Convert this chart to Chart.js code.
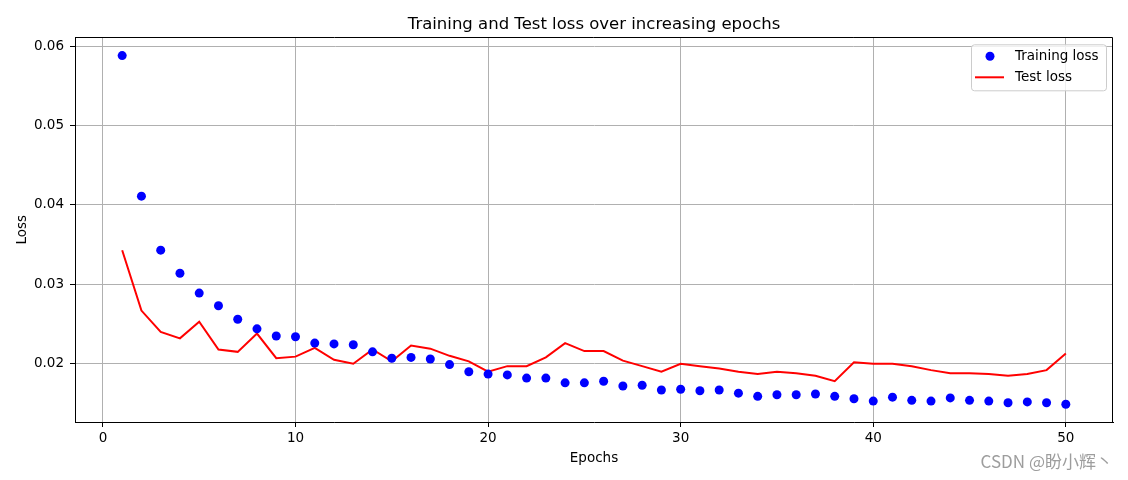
<!DOCTYPE html>
<html>
<head>
<meta charset="utf-8">
<script src="https://cdn.jsdelivr.net/npm/chart.js@4.4.1/dist/chart.umd.min.js"></script>
<style>
  html, body { margin: 0; padding: 0; background: #fff; }
  #wrap { width: 1128px; height: 480px; }
</style>
</head>
<body>
<div id="wrap"><canvas id="lossChart" width="1128" height="480"></canvas></div>
<script>
// --- DATA ---
const epochs = [1, 2, 3, 4, 5, 6, 7, 8, 9, 10,
    11, 12, 13, 14, 15, 16, 17, 18, 19, 20,
    21, 22, 23, 24, 25, 26, 27, 28, 29, 30,
    31, 32, 33, 34, 35, 36, 37, 38, 39, 40,
    41, 42, 43, 44, 45, 46, 47, 48, 49, 50];

const trainLoss = [0.0588, 0.0411, 0.0343, 0.0314, 0.0289, 0.0273, 0.0256, 0.0244, 0.0235, 0.0234,
    0.0226, 0.0225, 0.0224, 0.0215, 0.0207, 0.0208, 0.0206, 0.0199, 0.0190, 0.0187,
    0.0186, 0.0182, 0.0182, 0.0176, 0.0176, 0.0178, 0.0172, 0.0173, 0.0167, 0.0168,
    0.0166, 0.0167, 0.0163, 0.0159, 0.0161, 0.0161, 0.0162, 0.0159, 0.0156, 0.0153,
    0.0158, 0.0154, 0.0153, 0.0157, 0.0154, 0.0153, 0.0151, 0.0152, 0.0151, 0.0149];

const testLoss = [0.0343, 0.0267, 0.0240, 0.0232, 0.0253, 0.0218, 0.0215, 0.0238, 0.0207, 0.0209,
    0.0220, 0.0205, 0.0200, 0.0218, 0.0203, 0.0223, 0.0219, 0.0210, 0.0203, 0.0190,
    0.0197, 0.0197, 0.0208, 0.0226, 0.0216, 0.0216, 0.0204, 0.0197, 0.0190, 0.0200,
    0.0197, 0.0194, 0.0190, 0.0187, 0.0190, 0.0188, 0.0185, 0.0178, 0.0202, 0.0200,
    0.0200, 0.0197, 0.0192, 0.0188, 0.0188, 0.0187, 0.0185, 0.0187, 0.0192, 0.0213];

const xTicks = [0, 10, 20, 30, 40, 50];
const yTicks = [0.02, 0.03, 0.04, 0.05, 0.06];

const FONT = 'DejaVu Sans';
const BLUE = '#0000ff';
const RED = '#ff0000';

// top/right spines, legend inside the axes, watermark
const extras = {
    id: 'extras',
    afterDraw(chart) {
        const c = chart.ctx;
        const a = chart.chartArea;
        c.save();
        c.strokeStyle = '#000';
        c.lineWidth = 1;
        const top = Math.round(a.top) + 0.5, right = Math.round(a.right) - 0.5;
        c.beginPath();
        c.moveTo(a.left, top);
        c.lineTo(right, top);
        c.lineTo(right, a.bottom);
        c.stroke();

        // legend
        const w = 135, h = 46;
        const lx = a.right - 7 - w, ly = a.top + 7;
        c.beginPath();
        c.roundRect(lx + 0.5, ly + 0.5, w, h, 3);
        c.fillStyle = 'rgba(255,255,255,0.8)';
        c.fill();
        c.strokeStyle = '#cccccc';
        c.stroke();

        c.fillStyle = BLUE;
        c.beginPath();
        c.arc(lx + 19, ly + 12, 4.5, 0, Math.PI * 2);
        c.fill();

        c.strokeStyle = RED;
        c.lineWidth = 2;
        c.beginPath();
        c.moveTo(lx + 4, ly + 33);
        c.lineTo(lx + 33, ly + 33);
        c.stroke();

        c.fillStyle = '#000';
        c.font = '13.5px "' + FONT + '"';
        c.textBaseline = 'middle';
        c.textAlign = 'left';
        c.fillText('Training loss', lx + 44, ly + 12);
        c.fillText('Test loss', lx + 44, ly + 33);

        // watermark
        c.fillStyle = 'rgba(140,140,140,0.85)';
        c.font = '17px "Noto Sans CJK SC", "' + FONT + '"';
        c.textAlign = 'right';
        c.fillText('CSDN @盼小辉丶', 1113, 462);
        c.restore();
    }
};

const ctx = document.getElementById('lossChart');
new Chart(ctx, {
    type: 'line',
    data: {
        labels: epochs,
        datasets: [
            {
                label: 'Training loss',
                data: epochs.map((e, i) => ({ x: e, y: trainLoss[i] })),
                showLine: false,
                pointRadius: 4.5,
                pointBackgroundColor: BLUE,
                pointBorderWidth: 0,
                order: 1
            },
            {
                label: 'Test loss',
                data: epochs.map((e, i) => ({ x: e, y: testLoss[i] })),
                borderColor: RED,
                borderWidth: 2,
                pointRadius: 0,
                tension: 0,
                fill: false,
                order: 2
            }
        ]
    },
    options: {
        responsive: false,
        animation: false,
        devicePixelRatio: 1,
        layout: { padding: { left: 0, right: 15, top: 0, bottom: 0 } },
        plugins: {
            legend: { display: false },
            tooltip: { enabled: false },
            title: {
                display: true,
                text: 'Training and Test loss over increasing epochs',
                fullSize: false,
                color: '#000',
                font: { family: FONT, size: 16.5, weight: 'normal' },
                padding: { top: 15, bottom: 2.5 }
            }
        },
        scales: {
            x: {
                type: 'linear',
                min: -1.45,
                max: 52.45,
                afterBuildTicks: s => { s.ticks = xTicks.map(v => ({ value: v })); },
                afterFit: s => { s.height = 58; },
                ticks: {
                    color: '#000',
                    font: { family: FONT, size: 13.5 },
                    padding: 3,
                    maxRotation: 0,
                    callback: v => String(v)
                },
                grid: { color: '#b0b0b0', lineWidth: 1, tickColor: '#000', tickLength: 5 },
                border: { color: '#000', width: 1 },
                title: {
                    display: true,
                    text: 'Epochs',
                    color: '#000',
                    font: { family: FONT, size: 13.5 },
                    padding: { top: 0, bottom: 13 }
                }
            },
            y: {
                type: 'linear',
                min: 0.01267,
                max: 0.0611,
                afterBuildTicks: s => { s.ticks = yTicks.map(v => ({ value: v })); },
                afterFit: s => { s.width = 75; },
                ticks: {
                    color: '#000',
                    font: { family: FONT, size: 13.5 },
                    padding: 6,
                    callback: v => v.toFixed(2)
                },
                grid: { color: '#b0b0b0', lineWidth: 1, tickColor: '#000', tickLength: 5 },
                border: { color: '#000', width: 1 },
                title: {
                    display: true,
                    text: 'Loss',
                    color: '#000',
                    font: { family: FONT, size: 13.5 },
                    padding: { top: 14, bottom: 0 }
                }
            }
        }
    },
    plugins: [extras]
});
</script>
</body>
</html>
